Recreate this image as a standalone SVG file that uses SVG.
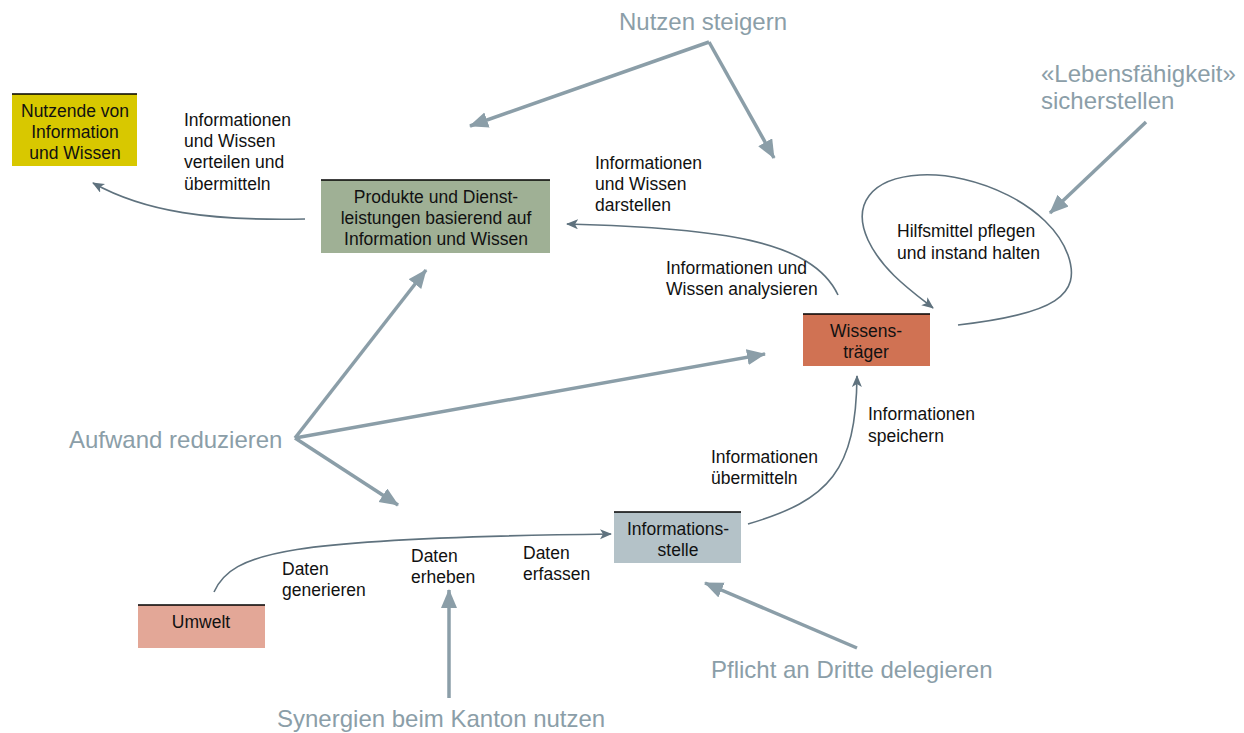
<svg xmlns="http://www.w3.org/2000/svg" width="1244" height="733" viewBox="0 0 1244 733">
  <style>
    .box-top { stroke: #000; stroke-width: 1.5; }
    .node-text { font-family: "Liberation Sans", Arial, sans-serif; font-size: 17.5px; fill: #111; text-anchor: middle; }
    .label { font-family: "Liberation Sans", Arial, sans-serif; font-size: 17.5px; fill: #111; }
    .goal { font-family: "Liberation Sans", Arial, sans-serif; font-size: 24px; fill: #8b9ea8; }
    .flow { fill: none; stroke: #5f727e; stroke-width: 1.6; marker-end: url(#thin); }
    .push { fill: none; stroke: #8b9ea8; stroke-width: 3.5; marker-end: url(#thick); }
  </style>
  <defs>
    <marker id="thin" markerUnits="userSpaceOnUse" markerWidth="14" markerHeight="12" refX="11" refY="5" orient="auto">
      <path d="M0,0 L12,5 L0,10 L3,5 Z" fill="#5f727e"/>
    </marker>
    <marker id="thick" markerUnits="userSpaceOnUse" markerWidth="22" markerHeight="20" refX="18" refY="8" orient="auto">
      <path d="M0,0 L19,8 L0,16 Z" fill="#8b9ea8"/>
    </marker>
  </defs>

  <rect width="1244" height="733" fill="#fff"/>

  <!-- connectors -->
  <g id="connectors">
    <path class="flow" d="M305,219 C210,221 145,212 93,183"/>
    <path class="flow" d="M838,295 C812,240 720,228 567,224"/>
    <path class="flow" d="M958,325 C1055,314 1082,295 1068,255 C1050,205 975,172 920,175 C870,178 852,205 868,240 C882,270 910,290 933,308"/>
    <path class="flow" d="M214,592 C232,552 285,538 611,534"/>
    <path class="flow" d="M748,524 C830,500 856,470 857,376"/>

    <path class="push" d="M709,42 L470,126"/>
    <path class="push" d="M709,42 L774,158"/>
    <path class="push" d="M1146,122 L1050,213"/>
    <path class="push" d="M295,438 L426,270"/>
    <path class="push" d="M295,438 L765,354"/>
    <path class="push" d="M295,438 L398,505"/>
    <path class="push" d="M449,698 L449,590"/>
    <path class="push" d="M857,648 L705,583"/>
  </g>

  <g id="nutzende">
    <rect x="12" y="94" width="125" height="72" fill="#d8c800"/>
    <line class="box-top" x1="12" y1="94" x2="137" y2="94"/>
    <text class="node-text" x="75" y="117">Nutzende von</text>
    <text class="node-text" x="75" y="138">Information</text>
    <text class="node-text" x="75" y="159">und Wissen</text>
  </g>

  <g id="produkte">
    <rect x="321" y="180" width="229" height="73" fill="#9fb095"/>
    <line class="box-top" x1="321" y1="180" x2="550" y2="180"/>
    <text class="node-text" x="436" y="203">Produkte und Dienst-</text>
    <text class="node-text" x="436" y="224">leistungen basierend auf</text>
    <text class="node-text" x="436" y="245">Information und Wissen</text>
  </g>

  <g id="wissenstraeger">
    <rect x="803" y="314" width="127" height="52" fill="#d07253"/>
    <line class="box-top" x1="803" y1="314" x2="930" y2="314"/>
    <text class="node-text" x="866" y="337">Wissens-</text>
    <text class="node-text" x="866" y="358">träger</text>
  </g>

  <g id="informationsstelle">
    <rect x="614" y="512" width="127" height="51" fill="#b4c2c8"/>
    <line class="box-top" x1="614" y1="512" x2="741" y2="512"/>
    <text class="node-text" x="678" y="535">Informations-</text>
    <text class="node-text" x="678" y="556">stelle</text>
  </g>

  <g id="umwelt">
    <rect x="138" y="605" width="127" height="43" fill="#e3a797"/>
    <line class="box-top" x1="138" y1="605" x2="265" y2="605"/>
    <text class="node-text" x="201" y="628">Umwelt</text>
  </g>

  <!-- activity labels -->
  <g id="activity-labels">
    <text class="label" x="184" y="126">Informationen</text>
    <text class="label" x="184" y="147">und Wissen</text>
    <text class="label" x="184" y="168">verteilen und</text>
    <text class="label" x="184" y="190">übermitteln</text>

    <text class="label" x="595" y="169">Informationen</text>
    <text class="label" x="595" y="190">und Wissen</text>
    <text class="label" x="595" y="211">darstellen</text>

    <text class="label" x="666" y="274">Informationen und</text>
    <text class="label" x="666" y="295">Wissen analysieren</text>

    <text class="label" x="897" y="237">Hilfsmittel pflegen</text>
    <text class="label" x="897" y="259">und instand halten</text>

    <text class="label" x="868" y="420">Informationen</text>
    <text class="label" x="868" y="442">speichern</text>

    <text class="label" x="711" y="463">Informationen</text>
    <text class="label" x="711" y="484">übermitteln</text>

    <text class="label" x="282" y="575">Daten</text>
    <text class="label" x="282" y="596">generieren</text>

    <text class="label" x="411" y="562">Daten</text>
    <text class="label" x="411" y="583">erheben</text>

    <text class="label" x="523" y="559">Daten</text>
    <text class="label" x="523" y="580">erfassen</text>
  </g>

  <!-- goals -->
  <g id="goals">
    <text class="goal" x="703" y="30" text-anchor="middle">Nutzen steigern</text>
    <text class="goal" x="1041" y="82">«Lebensfähigkeit»</text>
    <text class="goal" x="1041" y="109">sicherstellen</text>
    <text class="goal" x="69" y="448">Aufwand reduzieren</text>
    <text class="goal" x="277" y="727">Synergien beim Kanton nutzen</text>
    <text class="goal" x="711" y="678">Pflicht an Dritte delegieren</text>
  </g>
</svg>
